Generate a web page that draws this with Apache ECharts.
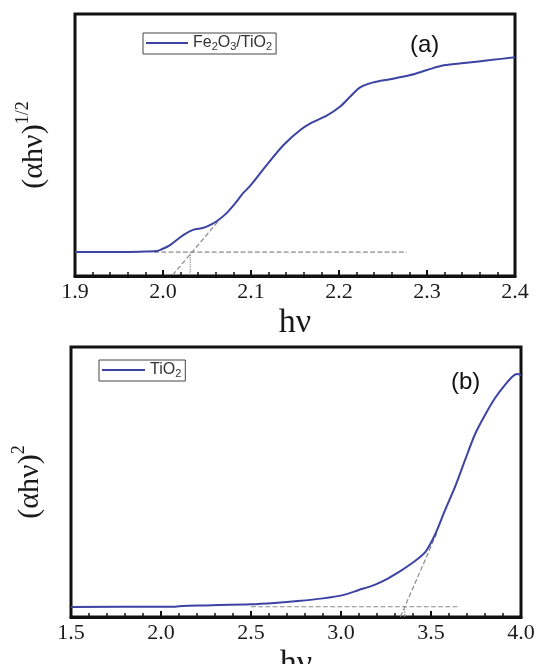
<!DOCTYPE html>
<html>
<head>
<meta charset="utf-8">
<script src="https://cdn.jsdelivr.net/npm/echarts@6/dist/echarts.min.js"></script>
<style>
html,body{margin:0;padding:0;background:#fff;}
#main{width:539px;height:664px;}
</style>
</head>
<body>
<div id="main"></div>
<script>
// Panel (a): Fe2O3/TiO2, (alpha h nu)^1/2 vs h nu
var aX = [1.90, 1.95, 1.974, 1.993, 1.9985, 2.008, 2.023, 2.034, 2.046, 2.055, 2.063, 2.072, 2.082, 2.091, 2.099, 2.118, 2.137, 2.156, 2.169, 2.186, 2.201, 2.2125, 2.224, 2.239, 2.258, 2.281, 2.300, 2.319, 2.345, 2.372, 2.400];
var aY = [9.2, 9.2, 9.3, 9.5, 10.2, 11.8, 15.6, 17.6, 18.4, 19.7, 21.4, 23.9, 27.7, 31.6, 34.4, 42.4, 50.0, 55.7, 58.5, 61.2, 64.6, 68.4, 72.0, 73.9, 75.1, 76.7, 78.6, 80.4, 81.4, 82.4, 83.5];
var aBaseX = [1.99, 2.277], aBaseY = [9.1, 9.1];
var aTanX = [2.011, 2.0625], aTanY = [0.4, 20.8];
var aDropX = [2.031, 2.031], aDropY = [9.1, 0];

// Panel (b): TiO2, (alpha h nu)^2 vs h nu
var bX = [1.5, 2.0, 2.08, 2.12, 2.25, 2.5, 2.63, 2.76, 2.9, 3.01, 3.099, 3.19, 3.26, 3.32, 3.394, 3.468, 3.523, 3.578, 3.634, 3.689, 3.744, 3.800, 3.855, 3.910, 3.956, 3.980, 4.0];
var bY = [3.7, 3.8, 3.8, 4.1, 4.3, 4.7, 5.2, 5.9, 6.9, 8.1, 10.0, 12.0, 14.2, 16.6, 19.9, 24.0, 30.6, 39.6, 48.3, 58.1, 67.6, 74.8, 81.0, 85.9, 89.3, 90.0, 89.6];
var bBaseX = [2.5, 3.652], bBaseY = [3.8, 3.8];
var bTanX = [3.33, 3.532], bTanY = [0.1, 31.0];
var bDropX = [3.354, 3.354], bDropY = [3.8, 0];

var nameA = 'Fe2O3/TiO2', nameB = 'TiO2';
var ticksA = {min: 1.9, max: 2.4, interval: 0.1};
var ticksB = {min: 1.5, max: 4.0, interval: 0.5};

function zip(xs, ys){ return xs.map(function(x,i){ return [x, ys[i]]; }); }

var chart = echarts.init(document.getElementById('main'), null, {renderer:'canvas'});
var blue = '#3c43a3';
var serif = '"Liberation Serif", "DejaVu Serif", serif';

function xAxisCfg(gi, t){
  return {
    type:'value', gridIndex: gi, min: t.min, max: t.max, interval: t.interval,
    axisLine:{show:true, onZero:false, lineStyle:{color:'#111', width:3}},
    axisTick:{show:true, inside:true, length:6, lineStyle:{color:'#111', width:2}},
    minorTick:{show:true, splitNumber:5, length:4, lineStyle:{color:'#111', width:1.5}},
    splitLine:{show:false},
    axisLabel:{margin:5, fontFamily:serif, fontSize:22, color:'#1a1a1a',
      formatter:function(v){ return v.toFixed(1); }},
    name:'hν', nameLocation:'middle', nameGap:30,
    nameTextStyle:{fontFamily:serif, fontSize:34, color:'#1a1a1a'}
  };
}
function yAxisCfg(gi, sup){
  return {
    type:'value', gridIndex: gi, min:0, max:100,
    axisLine:{show:false}, axisTick:{show:false}, axisLabel:{show:false}, splitLine:{show:false},
    name:'{m|(αhν)}{s|' + sup + '}', nameLocation:'middle', nameRotate:90, nameGap:21,
    nameTextStyle:{
      rich:{
        m:{fontFamily:serif, fontSize:30, color:'#1a1a1a', lineHeight:40},
        s:{fontFamily:serif, fontSize:18, color:'#1a1a1a', lineHeight:18, verticalAlign:'top'}
      }
    }
  };
}
function legendFmt(name){
  if (name === nameA) return '{t|Fe}{s|2}{t|O}{s|3}{t|/TiO}{s|2}';
  return '{t|TiO}{s|2}';
}
var legendRich = {
  t:{fontFamily:'"Liberation Sans", Arial, sans-serif', fontSize:16, color:'#333', lineHeight:18},
  s:{fontFamily:'"Liberation Sans", Arial, sans-serif', fontSize:11, color:'#333', lineHeight:10, verticalAlign:'bottom'}
};
function dashSeries(xi, xs, ys, type){
  return {type:'line', xAxisIndex:xi, yAxisIndex:xi, data: zip(xs, ys), symbol:'none', silent:true,
    lineStyle:{color:'#8a8a8a', width:1.2, type:type}, z:1};
}

chart.setOption({
  backgroundColor:'#fff',
  animation:false,
  grid:[
    {left:75, top:14, right:24, bottom:388, show:true, borderColor:'#111', borderWidth:3, backgroundColor:'transparent', outerBoundsMode:'none', containLabel:false},
    {left:71, top:347, right:18, bottom:47, show:true, borderColor:'#111', borderWidth:3, backgroundColor:'transparent', outerBoundsMode:'none', containLabel:false}
  ],
  xAxis:[xAxisCfg(0, ticksA), xAxisCfg(1, ticksB)],
  yAxis:[yAxisCfg(0, '1/2'), yAxisCfg(1, '2')],
  legend:[
    {data:[nameA], left:143, top:33, padding:[2,4,2,3], borderColor:'#444', borderWidth:1,
     icon:'rect', itemWidth:42, itemHeight:2, itemGap:5, formatter:legendFmt, textStyle:{rich:legendRich}},
    {data:[nameB], left:99, top:360, padding:[2,4,2,3], borderColor:'#444', borderWidth:1,
     icon:'rect', itemWidth:43, itemHeight:2, itemGap:5, formatter:legendFmt, textStyle:{rich:legendRich}}
  ],
  graphic:[
    {type:'text', left:410, top:33, style:{text:'(a)', font:'24px "Liberation Sans", Arial, sans-serif', fill:'#111'}},
    {type:'text', left:451, top:370, style:{text:'(b)', font:'24px "Liberation Sans", Arial, sans-serif', fill:'#111'}}
  ],
  series:[
    {name:nameA, type:'line', xAxisIndex:0, yAxisIndex:0, data: zip(aX, aY), symbol:'none', smooth:0.3,
     lineStyle:{color:blue, width:2}, itemStyle:{color:blue}, z:3},
    dashSeries(0, aBaseX, aBaseY, 'dashed'),
    dashSeries(0, aTanX, aTanY, 'dashed'),
    dashSeries(0, aDropX, aDropY, 'dotted'),
    {name:nameB, type:'line', xAxisIndex:1, yAxisIndex:1, data: zip(bX, bY), symbol:'none', smooth:0.3,
     lineStyle:{color:blue, width:2}, itemStyle:{color:blue}, z:3},
    dashSeries(1, bBaseX, bBaseY, 'dashed'),
    dashSeries(1, bTanX, bTanY, 'dashed'),
    dashSeries(1, bDropX, bDropY, 'dotted')
  ]
});
</script>
</body>
</html>
